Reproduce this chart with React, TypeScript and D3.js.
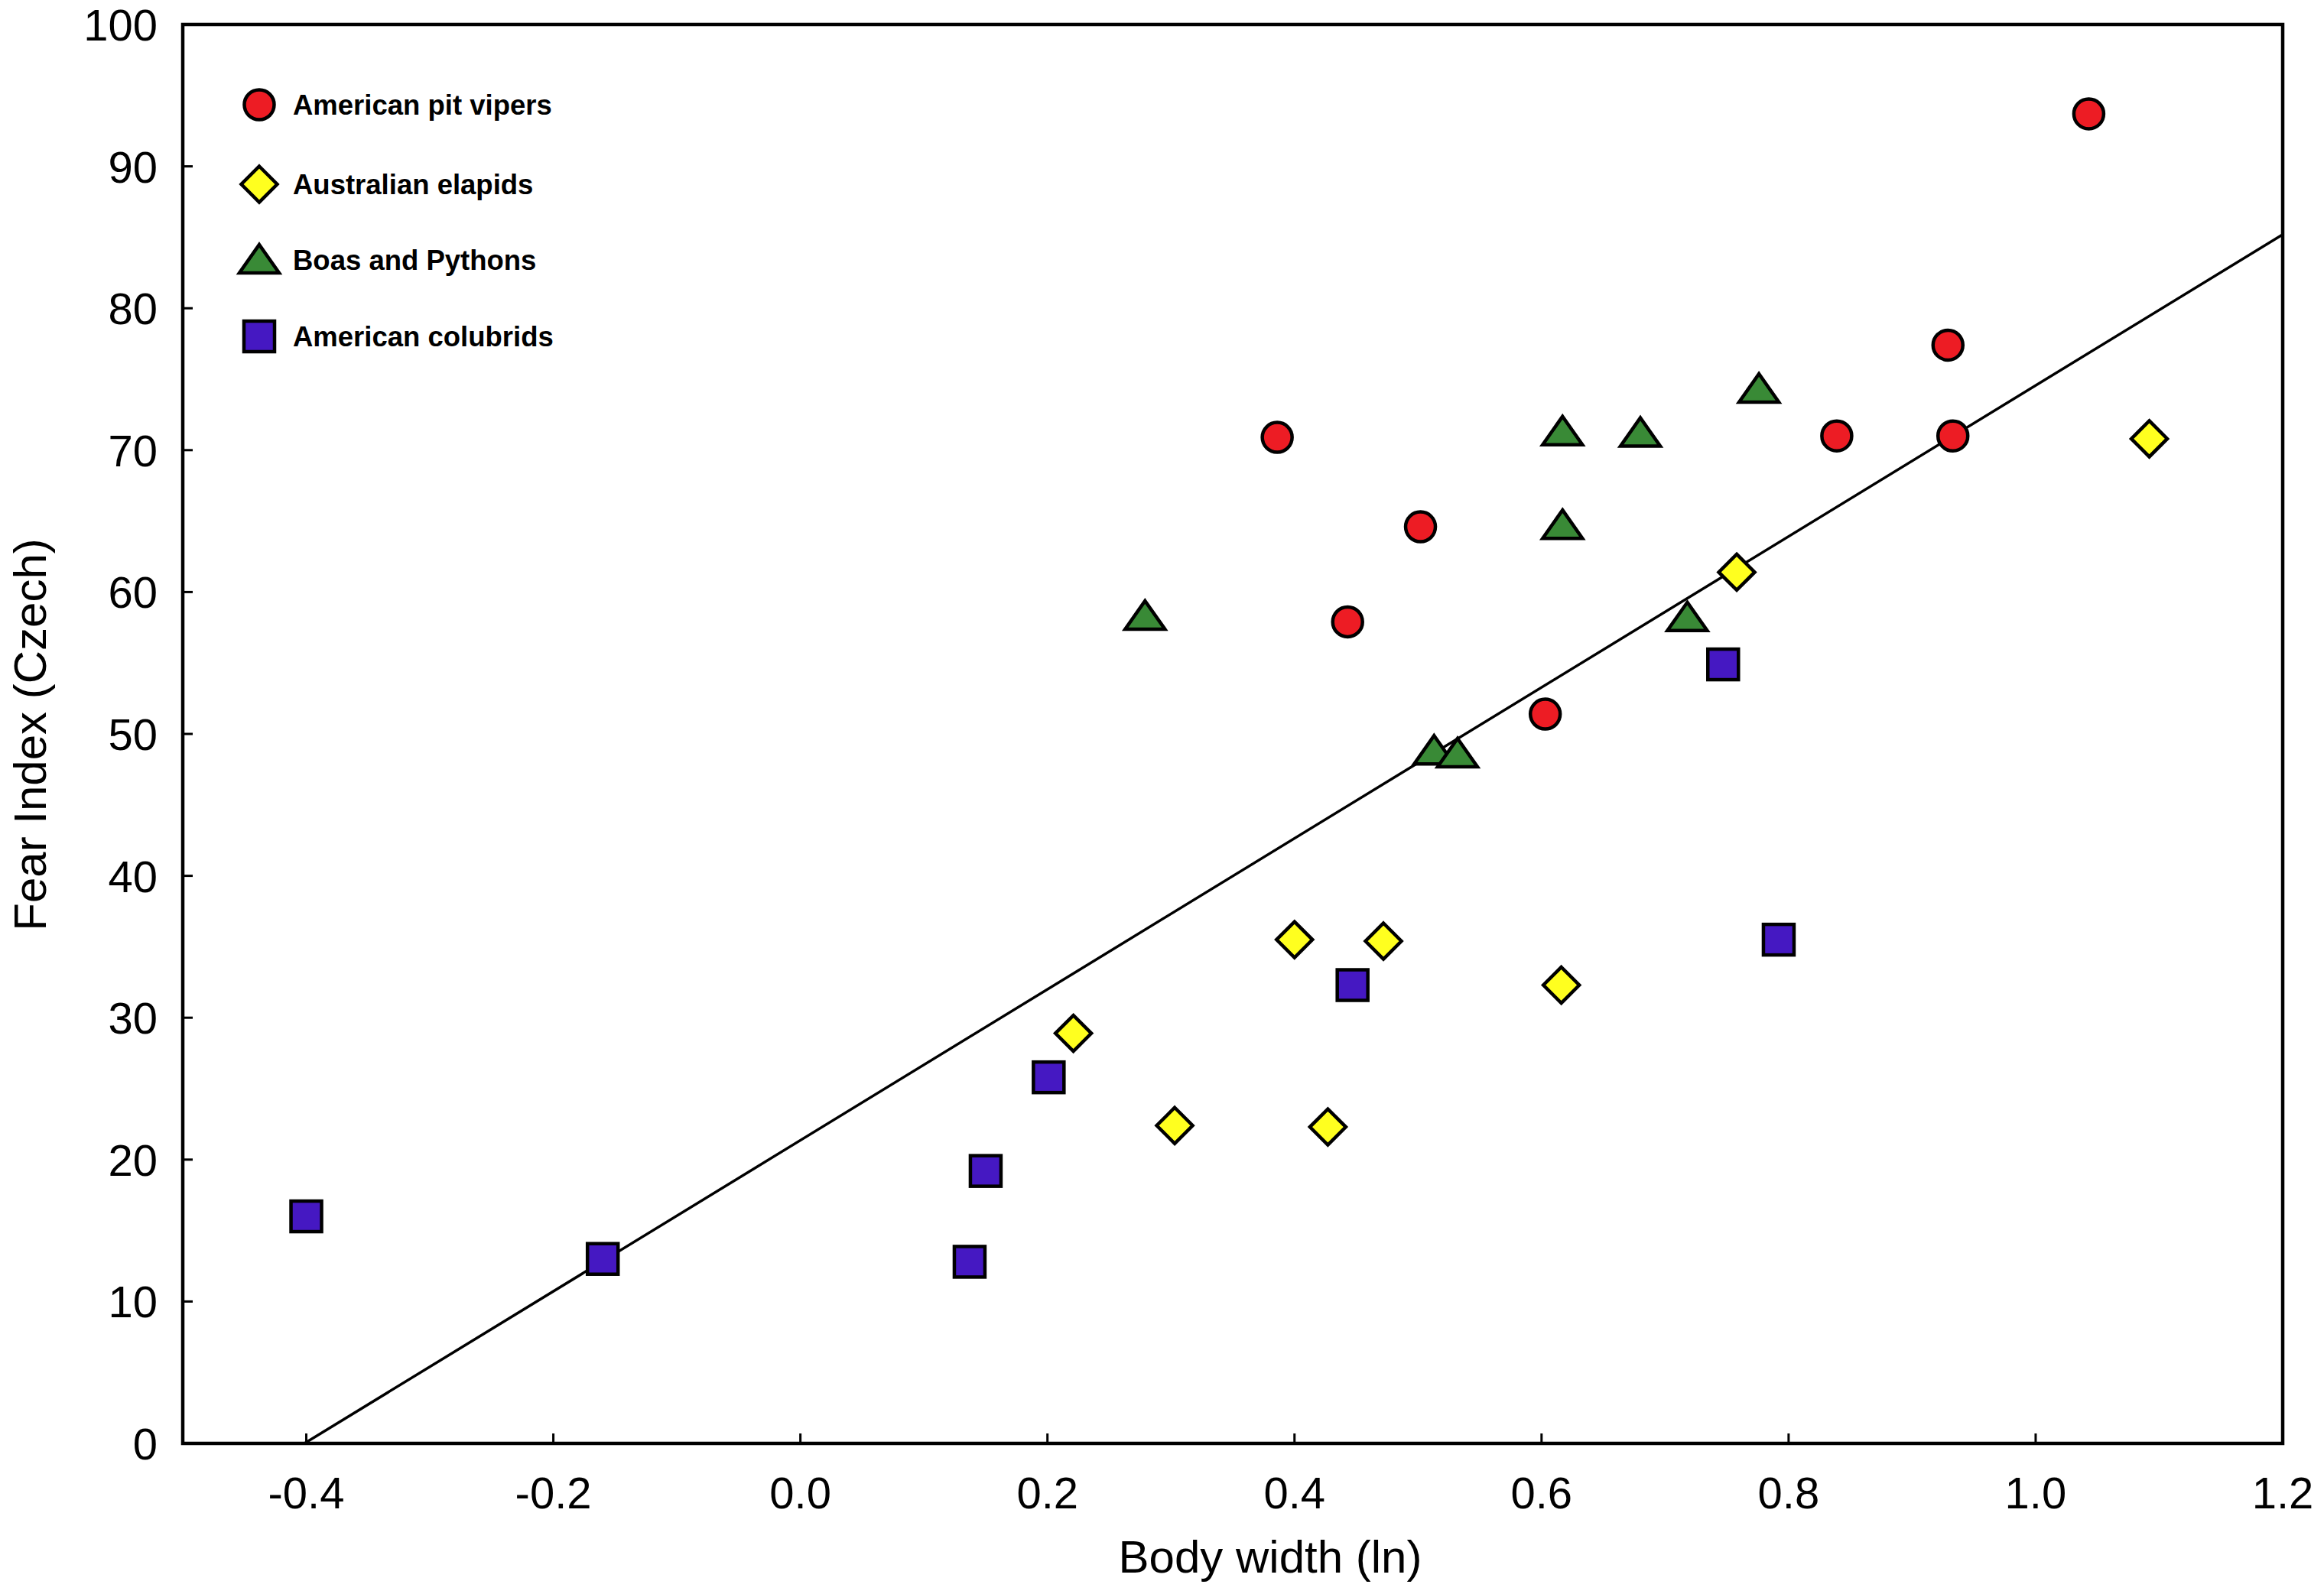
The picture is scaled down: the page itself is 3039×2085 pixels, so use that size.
import React, { useEffect } from "react";
import * as d3 from "d3";

// ---- data ----
const pitViperX = [0.386, 0.502, 0.443, 0.603, 0.839, 0.929, 0.933, 1.043];
const pitViperY = [70.9, 64.6, 57.9, 51.4, 71.0, 77.4, 71.0, 93.7];

const elapidX = [0.221, 0.303, 0.4, 0.472, 0.427, 0.616, 0.758, 1.092];
const elapidY = [28.9, 22.4, 35.5, 35.4, 22.3, 32.3, 61.4, 70.8];

const boaX = [0.279, 0.513, 0.532, 0.617, 0.617, 0.68, 0.718, 0.776];
const boaY = [58.3, 48.8, 48.6, 71.3, 64.7, 71.2, 58.2, 74.3];

const colubridX = [-0.4, -0.16, 0.137, 0.15, 0.201, 0.447, 0.747, 0.792];
const colubridY = [16.0, 13.0, 12.8, 19.2, 25.8, 32.3, 54.9, 35.5];

const seriesNames = ["American pit vipers", "Australian elapids", "Boas and Pythons", "American colubrids"];

const REG_INTERCEPT = 21.36;
const REG_SLOPE = 53.2;

const xTicks = [-0.4, -0.2, 0.0, 0.2, 0.4, 0.6, 0.8, 1.0, 1.2];
const yTicks = [0, 10, 20, 30, 40, 50, 60, 70, 80, 90, 100];
const xDomain: [number, number] = [-0.5, 1.2];
const yDomain: [number, number] = [0, 100];

// ---- layout / style ----
const W = 3039;
const H = 2085;
const PL = 239, PR = 2985, PT = 32, PB = 1888;
const FONT = "'Liberation Sans', Arial, Helvetica, sans-serif";
const COLORS = ["#ed1c24", "#ffff1f", "#398a36", "#4518c2"];
const SW = 4.5;

type Shape = "circle" | "diamond" | "triangle" | "square";
const shapes: Shape[] = ["circle", "diamond", "triangle", "square"];

function Marker({ shape, x, y, fill }: { shape: Shape; x: number; y: number; fill: string }) {
  const common = { fill, stroke: "#000", strokeWidth: SW, strokeLinejoin: "miter" as const };
  if (shape === "circle") return <circle cx={x} cy={y} r={19.5} {...common} />;
  if (shape === "square") return <rect x={x - 20} y={y - 20} width={40} height={40} {...common} />;
  if (shape === "diamond") {
    const h = 23.5;
    return <path d={`M${x},${y - h}L${x + h},${y}L${x},${y + h}L${x - h},${y}Z`} {...common} />;
  }
  return <path d={`M${x},${y - 20}L${x + 26},${y + 17}L${x - 26},${y + 17}Z`} {...common} />;
}

export default function App() {
  useEffect(() => {
    document.body.style.margin = "0";
  }, []);

  const x = d3.scaleLinear().domain(xDomain).range([PL, PR]);
  const y = d3.scaleLinear().domain(yDomain).range([PB, PT]);

  const series = [
    { xs: pitViperX, ys: pitViperY },
    { xs: elapidX, ys: elapidY },
    { xs: boaX, ys: boaY },
    { xs: colubridX, ys: colubridY },
  ];

  const regStart = -REG_INTERCEPT / REG_SLOPE;
  const regPts: [number, number][] = [regStart, xDomain[1]].map((v) => [v, REG_INTERCEPT + REG_SLOPE * v]);
  const line = d3
    .line<[number, number]>()
    .x((d) => x(d[0]))
    .y((d) => y(d[1]));

  const legendY = [137, 241, 340, 440];

  return (
    <svg width={W} height={H} style={{ position: "absolute", left: 0, top: 0, background: "#fff" }} fontFamily={FONT}>
      <rect x={0} y={0} width={W} height={H} fill="#fff" />

      {/* ticks */}
      {xTicks.map((t) => (
        <g key={"xt" + t}>
          <line x1={x(t)} x2={x(t)} y1={PB} y2={PB - 13} stroke="#000" strokeWidth={3} />
          <text x={x(t)} y={1973} fontSize={58} textAnchor="middle" fill="#000">
            {t.toFixed(1)}
          </text>
        </g>
      ))}
      {yTicks.map((t) => (
        <g key={"yt" + t}>
          <line x1={PL} x2={PL + 13} y1={y(t)} y2={y(t)} stroke="#000" strokeWidth={3} />
          <text x={206} y={y(t) + 21} fontSize={58} textAnchor="end" fill="#000">
            {t}
          </text>
        </g>
      ))}

      {/* frame */}
      <rect x={PL} y={PT} width={PR - PL} height={PB - PT} fill="none" stroke="#000" strokeWidth={4.5} />

      {/* regression line */}
      <path d={line(regPts) || ""} fill="none" stroke="#000" strokeWidth={3.5} />

      {/* points */}
      {series.map((s, si) =>
        s.xs.map((xv, i) => (
          <Marker key={si + "-" + i} shape={shapes[si]} x={x(xv)} y={y(s.ys[i])} fill={COLORS[si]} />
        ))
      )}

      {/* legend */}
      {seriesNames.map((name, i) => (
        <g key={name}>
          <Marker shape={shapes[i]} x={339} y={legendY[i]} fill={COLORS[i]} />
          <text x={383} y={legendY[i] + 13} fontSize={36.5} fontWeight="bold" fill="#000">
            {name}
          </text>
        </g>
      ))}

      {/* axis titles */}
      <text x={1661} y={2057} fontSize={60} textAnchor="middle" fill="#000">
        Body width (ln)
      </text>
      <text transform={`translate(60,961) rotate(-90)`} fontSize={60} textAnchor="middle" fill="#000">
        Fear Index (Czech)
      </text>
    </svg>
  );
}
